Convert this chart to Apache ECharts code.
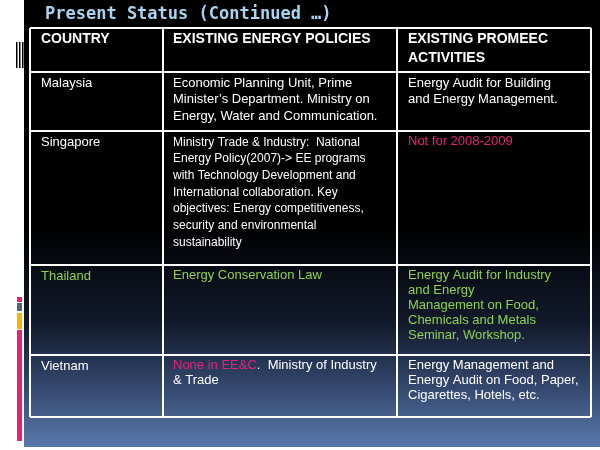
<!DOCTYPE html>
<html><head><meta charset="utf-8">
<script src="https://cdn.jsdelivr.net/npm/echarts@6/dist/echarts.min.js"></script>
<style>html,body{margin:0;padding:0;background:#fff}#c{width:600px;height:450px}</style>
</head><body><div id="c"></div>
<script>
const title = 'Present Status (Continued …)';
const headers = ['COUNTRY', 'EXISTING ENERGY POLICIES', 'EXISTING PROMEEC\nACTIVITIES'];
const countries = ['Malaysia', 'Singapore', 'Thailand', 'Vietnam'];
const policies = [
  'Economic Planning Unit, Prime\nMinister’s Department. Ministry on\nEnergy, Water and Communication.',
  'Ministry Trade & Industry:  National\nEnergy Policy(2007)-> EE programs\nwith Technology Development and\nInternational collaboration. Key\nobjectives: Energy competitiveness,\nsecurity and environmental\nsustainability',
  'Energy Conservation Law',
  '{p|None in EE&C}.  Ministry of Industry\n& Trade'
];
const activities = [
  'Energy Audit for Building\nand Energy Management.',
  'Not for 2008-2009',
  'Energy Audit for Industry\nand Energy\nManagement on Food,\nChemicals and Metals\nSeminar, Workshop.',
  'Energy Management and\nEnergy Audit on Food, Paper,\nCigarettes, Hotels, etc.'
];
const countryColor = ['#fff', '#fff', '#8fd14f', '#fff'];
const policyColor = ['#fff', '#fff', '#8fd14f', '#fff'];
const activityColor = ['#fff', '#e8207a', '#8fd14f', '#fff'];

const colX = [30, 163, 397, 591];
const rowY = [28, 72, 131, 265, 355, 417];
const rowLH = [16.5, 16.7, 15, 15];
const rowFS = [13, 12, 13, 13];
const FONT = 'Liberation Sans, Arial, sans-serif';

const g = [];
g.push({type:'rect', shape:{x:0,y:0,width:600,height:450}, style:{fill:new echarts.graphic.LinearGradient(0,0,0,1,[
  {offset:0,color:'#000'},{offset:0.5,color:'#000'},{offset:0.72,color:'#121a2c'},{offset:0.86,color:'#34486e'},{offset:1,color:'#5c7bb0'}])}});
g.push({type:'rect', shape:{x:0,y:0,width:24,height:450}, style:{fill:'#fff'}});
g.push({type:'rect', shape:{x:0,y:447,width:600,height:3}, style:{fill:'#fff'}});
[16, 19, 22].forEach(x => g.push({type:'rect', shape:{x:x,y:42,width:1.5,height:26}, style:{fill:'#000'}}));
g.push({type:'rect', shape:{x:17,y:297,width:5,height:5}, style:{fill:'#e8207a'}});
g.push({type:'rect', shape:{x:17,y:303,width:5,height:8}, style:{fill:'#5a6270'}});
g.push({type:'rect', shape:{x:17,y:313,width:5,height:16}, style:{fill:'#f5b400'}});
g.push({type:'rect', shape:{x:17,y:330,width:5,height:111}, style:{fill:'#e8207a'}});
g.push({type:'text', x:45, y:15, style:{text:title, fill:'#a8d4f0', font:'bold 17px "DejaVu Sans Mono", monospace', verticalAlign:'middle'}});

// table lines
const L = (x1,y1,x2,y2) => g.push({type:'line', shape:{x1,y1,x2,y2}, style:{stroke:'#fff', lineWidth:2}});
rowY.forEach(y => L(colX[0], y, colX[3], y));
colX.forEach(x => L(x, rowY[0], x, rowY[rowY.length-1]));

const textX = [41, 173, 408];
headers.forEach((h,i) => g.push({type:'text', x:textX[i], y:30, style:{text:h, fill:'#fff', font:'bold 14px '+FONT, lineHeight:19}}));
countries.forEach((c,r) => {
  const y = rowY[r+1] + 3;
  const fs = rowFS[r], lh = rowLH[r];
  g.push({type:'text', x:textX[0], y:y, style:{text:c, fill:countryColor[r], font:'13px '+FONT, lineHeight:16.5}});
  g.push({type:'text', x:textX[1], y:y, style:{text:policies[r], fill:policyColor[r], fontSize:fs, fontFamily:FONT, lineHeight:lh,
    rich:{p:{fill:'#e8207a', fontSize:fs, fontFamily:FONT, lineHeight:lh}}}});
  g.push({type:'text', x:textX[2], y:y, style:{text:activities[r], fill:activityColor[r], font:'13px '+FONT, lineHeight:r===0?16.5:15}});
});

const chart = echarts.init(document.getElementById('c'));
chart.setOption({animation:false, graphic:{elements:g}});
</script></body></html>
